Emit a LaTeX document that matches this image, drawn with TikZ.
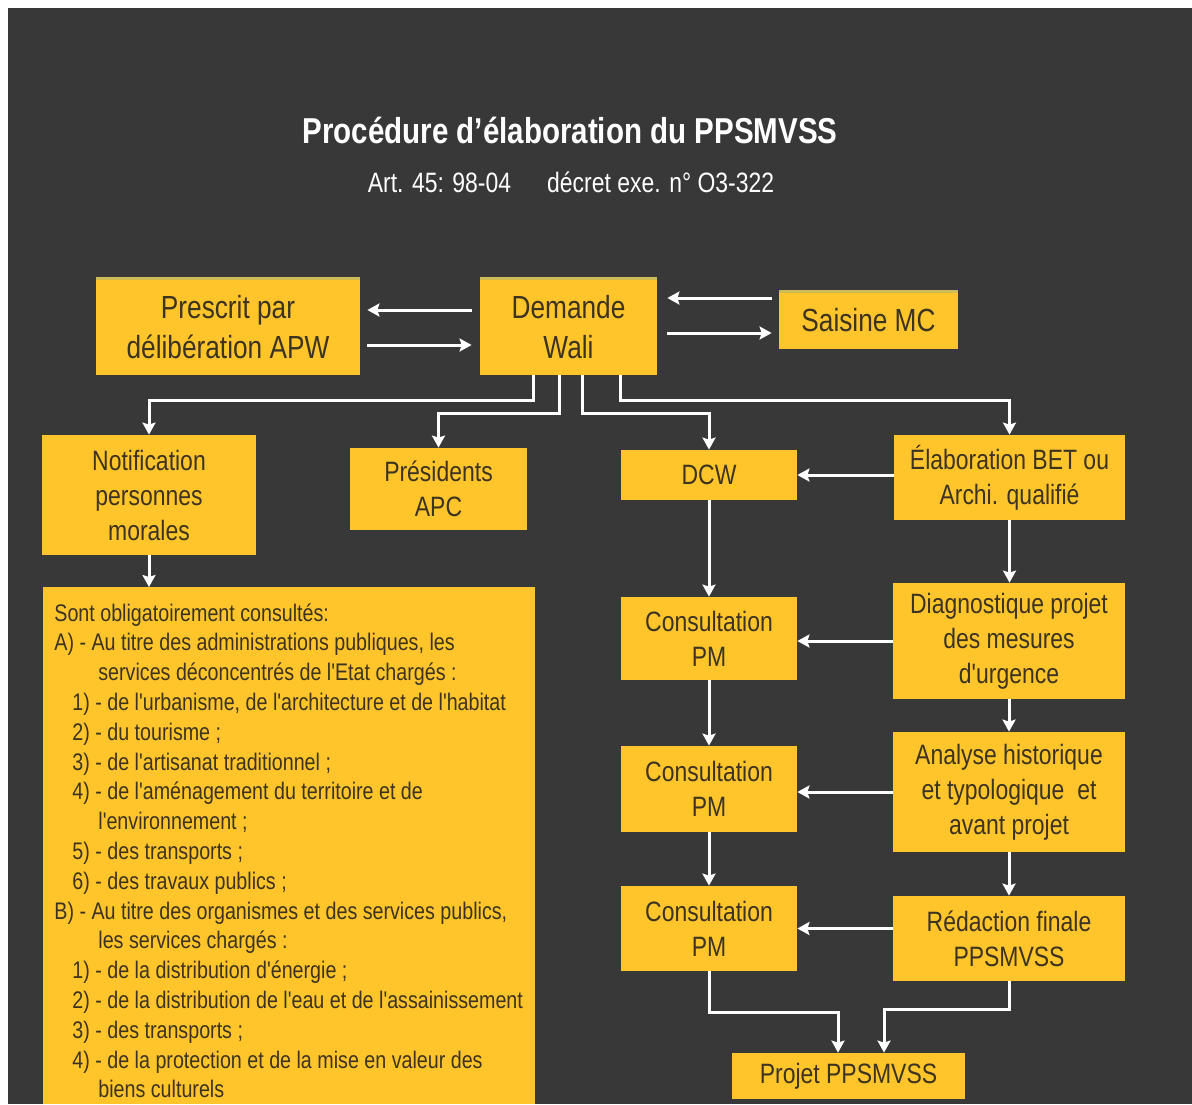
\documentclass[tikz,border=0pt]{standalone}
\usepackage{fontspec}
\newfontfamily\narrow{Liberation Sans}[FakeStretch=0.82]
\usetikzlibrary{arrows.meta,calc}
\definecolor{fond}{HTML}{383838}
\definecolor{jaune}{HTML}{FFC52B}
\definecolor{encre}{HTML}{3D3321}
\definecolor{filet}{HTML}{CDBB55}
\tikzset{
  grande/.style={fill=jaune, text=encre, align=center, inner sep=0pt,
    font=\narrow\fontsize{16}{20}\selectfont},
  petite/.style={fill=jaune, text=encre, align=center, inner sep=0pt,
    font=\narrow\fontsize{14}{17.5}\selectfont},
  liste/.style={text=encre, align=left, inner sep=0pt,
    font=\narrow\fontsize{12}{14.9}\selectfont},
  fleche/.style={draw=white, line width=1.5pt, ->},
}
\begin{document}
\begin{tikzpicture}[x=0.5pt, y=-0.5pt, >={Stealth[length=6pt,width=6.5pt,inset=1pt]}]
    % fond
    \useasboundingbox (0,0) rectangle (1192,1104);
    \fill[white] (0,0) rectangle (1192,1104);
    \fill[fond] (8,8) rectangle (1192,1104);

    % titre
    \node[text=white, font=\narrow\bfseries\fontsize{18}{22}\selectfont] (titre) at (570,130) {Procédure d’élaboration du PPSMVSS};
    \node[text=white, font=\narrow\fontsize{14}{17}\selectfont] (art) at (571,182) {Art. 45: 98-04\hspace{18pt}décret exe. n° O3-322};

    % ligne du haut
    \node[grande, minimum width=132pt, minimum height=48pt] (presc) at (228,327) {Prescrit par\\délibération APW};
    \node[grande, minimum width=88.5pt, minimum height=48pt] (dem) at (568.5,327) {Demande\\Wali};
    \node[grande, minimum width=89.5pt, minimum height=28.5pt] (sais) at (868.5,320.5) {Saisine MC};
    \foreach \n in {presc,dem,sais}
      \draw[filet, line width=1.2pt] (\n.north west) -- (\n.north east);

    \draw[fleche, shorten <=4pt, shorten >=3.5pt] ([yshift=8.5pt]dem.west) -- ([yshift=8.5pt]dem.west -| presc.east);
    \draw[fleche, shorten <=3.5pt, shorten >=4pt] ([yshift=-9pt]dem.west -| presc.east) -- ([yshift=-9pt]dem.west);
    \draw[fleche, shorten <=3.5pt, shorten >=5pt] ([yshift=11.25pt]sais.west) -- ([yshift=11.25pt]sais.west -| dem.east);
    \draw[fleche, shorten <=5pt, shorten >=3.5pt] ([yshift=-6.25pt]sais.west -| dem.east) -- ([yshift=-6.25pt]sais.west);

    % deuxième ligne
    \node[petite, minimum width=107pt, minimum height=60pt] (notif) at (149,495) {Notification\\personnes\\morales};
    \node[petite, minimum width=88.5pt, minimum height=41pt] (pres) at (438.5,489) {Présidents\\APC};
    \node[petite, minimum width=88pt, minimum height=25pt] (dcw) at (709,475) {DCW};
    \node[petite, minimum width=115.5pt, minimum height=42.5pt] (elab) at (1009.5,477.5) {Élaboration BET ou\\Archi. qualifié};

    \draw[fleche] ($(dem.south)+(-35.5,0)$) -- ++(0,25) -| (notif.north);
    \draw[fleche] ($(dem.south)+(-9.5,0)$) -- ++(0,38) -| (pres.north);
    \draw[fleche] ($(dem.south)+(13.5,0)$) -- ++(0,38) -| (dcw.north);
    \draw[fleche] ($(dem.south)+(51.5,0)$) -- ++(0,25) -| (elab.north);

    % colonnes de droite
    \node[petite, minimum width=88pt, minimum height=41.5pt] (cons1) at (709,638.5) {Consultation\\PM};
    \node[petite, minimum width=116pt, minimum height=58pt] (diag) at (1009,641) {Diagnostique projet\\des mesures\\d'urgence};
    \node[petite, minimum width=88pt, minimum height=43pt] (cons2) at (709,789) {Consultation\\PM};
    \node[petite, minimum width=116pt, minimum height=60pt] (anal) at (1009,792) {Analyse historique\\et typologique\ \ et\\avant projet};
    \node[petite, minimum width=88pt, minimum height=42.5pt] (cons3) at (709,928.5) {Consultation\\PM};
    \node[petite, minimum width=116pt, minimum height=42.5pt] (red) at (1009,938.5) {Rédaction finale\\PPSMVSS};
    \node[petite, minimum width=116.5pt, minimum height=23pt] (proj) at (848.5,1076) {Projet PPSMVSS};

    \draw[fleche] (elab.west |- dcw) -- (dcw.east);
    \draw[fleche] (diag.west) -- (diag.west -| cons1.east);
    \draw[fleche] (anal.west) -- (anal.west -| cons2.east);
    \draw[fleche] (red.west |- cons3) -- (cons3.east);

    \draw[fleche] (dcw.south) -- (cons1.north);
    \draw[fleche] (cons1.south) -- (cons2.north);
    \draw[fleche] (cons2.south) -- (cons3.north);
    \draw[fleche] (elab.south) -- (elab.south |- diag.north);
    \draw[fleche] (diag.south) -- (diag.south |- anal.north);
    \draw[fleche] (anal.south) -- (anal.south |- red.north);

    \draw[fleche] (cons3.south) -- ++(0,41) -| ($(proj.north)+(-10.5,0)$);
    \draw[fleche] (red.south) -- ++(0,28) -| ($(proj.north)+(35.5,0)$);

    % liste des personnes consultées
    \node[fill=jaune, anchor=north west, inner sep=0pt, minimum width=246pt, minimum height=258.5pt] (sont) at (43,587) {};
    \node[liste, anchor=north west] (texte) at (54,603) {Sont obligatoirement consultés:\\
      A) - Au titre des administrations publiques, les\\
      \hspace*{22pt}services déconcentrés de l'Etat chargés :\\
      \hspace*{9pt}1) - de l'urbanisme, de l'architecture et de l'habitat\\
      \hspace*{9pt}2) - du tourisme ;\\
      \hspace*{9pt}3) - de l'artisanat traditionnel ;\\
      \hspace*{9pt}4) - de l'aménagement du territoire et de\\
      \hspace*{22pt}l'environnement ;\\
      \hspace*{9pt}5) - des transports ;\\
      \hspace*{9pt}6) - des travaux publics ;\\
      B) - Au titre des organismes et des services publics,\\
      \hspace*{22pt}les services chargés :\\
      \hspace*{9pt}1) - de la distribution d'énergie ;\\
      \hspace*{9pt}2) - de la distribution de l'eau et de l'assainissement\\
      \hspace*{9pt}3) - des transports ;\\
      \hspace*{9pt}4) - de la protection et de la mise en valeur des\\
      \hspace*{22pt}biens culturels};
    \draw[fleche] (notif.south) -- (notif.south |- sont.north);
  \end{tikzpicture}
\end{document}
